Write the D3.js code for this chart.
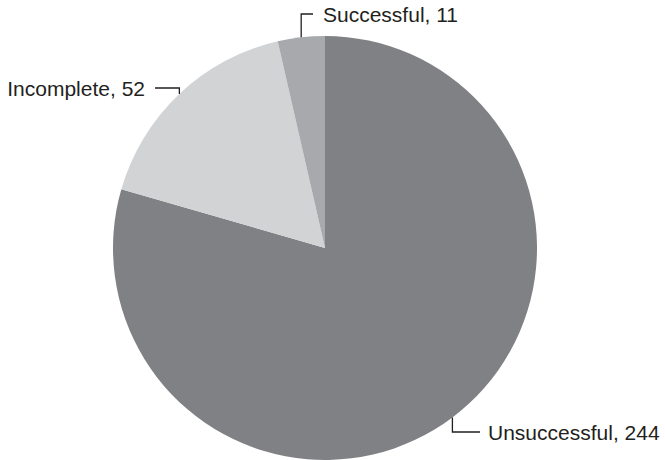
<!DOCTYPE html>
<html><head><meta charset="utf-8">
<script src="https://cdn.jsdelivr.net/npm/d3@7"></script>
<style>body{margin:0;background:#fff}svg{display:block}</style>
</head><body>
<svg id="c" width="665" height="460"></svg>
<script>
const categories = ["Unsuccessful", "Incomplete", "Successful"];
const values = [244, 52, 11];
const colors = ["#808184", "#d1d3d4", "#a7a9ac"];

const svg = d3.select("#c");
const cx = 325, cy = 248, r = 212;
const g = svg.append("g").attr("transform", `translate(${cx},${cy})`);
const data = categories.map((c, i) => ({cat: c, val: values[i], col: colors[i]}));
const arcs = d3.pie().sort(null).value(d => d.val)(data);
const arc = d3.arc().innerRadius(0).outerRadius(r);
g.selectAll("path.s").data(arcs).join("path").attr("class", "s")
  .attr("d", arc).attr("fill", d => d.data.col);

// label layout: elbow y (absolute), horizontal end x, text side
const layout = {
  "Successful": {ey: 14, hx: 313, tx: 323, anchor: "start"},
  "Incomplete": {ey: 88, hx: 155, tx: 145, anchor: "end"},
  "Unsuccessful": {ey: 432, hx: 480, tx: 488, anchor: "start"}
};
arcs.forEach(a => {
  const L = layout[a.data.cat];
  const m = (a.startAngle + a.endAngle) / 2;
  const px = cx + r * Math.sin(m), py = cy - r * Math.cos(m);
  svg.append("path")
    .attr("d", `M${px},${py}V${L.ey}H${L.hx}`)
    .attr("fill", "none").attr("stroke", "#231f20").attr("stroke-width", 1.3);
  svg.append("text").attr("x", L.tx).attr("y", L.ey)
    .attr("text-anchor", L.anchor).attr("dominant-baseline", "central")
    .attr("font-family", "Liberation Sans, Arial, sans-serif").attr("font-size", 21)
    .attr("fill", "#231f20")
    .text(`${a.data.cat}, ${a.data.val}`);
});
</script>
</body></html>
